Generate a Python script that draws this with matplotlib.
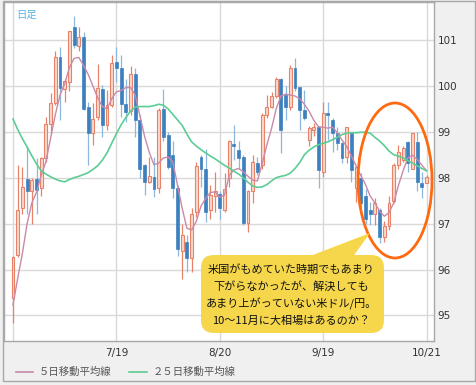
import matplotlib
matplotlib.use("Agg")
import matplotlib.pyplot as plt
import numpy as np
from matplotlib.patches import Ellipse, FancyBboxPatch, Polygon

plt.rcParams['font.family'] = ['Noto Sans CJK JP', 'DejaVu Sans']

# 日足 USD/JPY (6/19 - 10/21)
opens = [95.37, 96.32, 97.33, 97.97, 97.70, 97.98, 97.77, 98.42, 99.16, 99.62,
         100.62, 99.93, 100.09, 101.29, 100.88, 101.07, 99.55, 98.98, 99.33, 99.93,
         99.15, 99.58, 100.51, 100.38, 99.60, 99.45, 100.25, 99.26, 98.28, 97.91,
         98.02, 97.77, 99.49, 98.94, 98.49, 97.77, 96.40, 96.60, 96.25, 97.25,
         98.45, 98.20, 97.30, 97.60, 97.65, 97.30, 97.99, 98.73, 98.60, 98.46,
         97.01, 97.70, 98.31, 98.28, 99.37, 99.55, 99.77, 100.14, 99.80, 99.55,
         100.38, 99.97, 99.47, 98.82, 99.05, 99.11, 98.13, 99.40, 99.26, 98.98,
         98.75, 98.46, 98.98, 97.77, 98.00, 97.60, 97.30, 97.22, 97.30, 96.70,
         96.95, 97.50, 98.28, 98.39, 98.78, 98.20, 98.78, 97.89, 97.89]
highs = [96.30, 98.28, 98.24, 98.68, 98.00, 98.42, 98.46, 99.33, 99.84, 100.75,
         100.85, 100.15, 101.20, 101.52, 101.29, 101.18, 99.66, 99.62, 100.47, 100.02,
         99.91, 100.67, 100.85, 100.67, 100.16, 100.43, 100.40, 99.37, 98.30, 98.46,
         98.46, 99.51, 99.93, 99.00, 98.79, 97.84, 97.00, 96.75, 97.35, 98.35,
         98.50, 98.62, 97.84, 98.13, 97.70, 98.10, 98.82, 99.15, 98.79, 98.49,
         97.73, 98.49, 98.46, 99.40, 99.80, 99.87, 100.20, 100.17, 100.00, 100.46,
         100.60, 99.98, 99.91, 99.13, 99.20, 99.13, 99.66, 99.66, 99.29, 99.10,
         98.78, 99.11, 98.98, 98.26, 98.10, 97.75, 97.48, 97.55, 97.33, 97.05,
         97.60, 98.31, 98.71, 98.68, 98.80, 98.97, 99.00, 98.13, 98.06]
lows = [94.83, 96.28, 97.20, 97.22, 97.00, 97.22, 97.60, 98.35, 98.97, 99.58,
        99.26, 99.66, 99.89, 100.82, 100.75, 99.47, 98.28, 98.71, 99.26, 98.89,
        99.04, 99.55, 100.09, 99.33, 99.22, 99.37, 98.89, 97.99, 97.62, 97.88,
        97.57, 97.66, 98.79, 98.20, 97.55, 96.30, 95.80, 95.95, 95.95, 97.15,
        97.80, 97.04, 97.11, 97.26, 97.11, 97.25, 97.80, 98.39, 98.20, 96.97,
        96.82, 97.44, 98.06, 98.20, 99.29, 99.51, 99.73, 98.53, 99.25, 99.47,
        99.88, 99.04, 99.26, 98.68, 98.90, 97.77, 98.02, 98.82, 98.57, 98.60,
        98.31, 98.31, 97.90, 97.48, 97.35, 97.00, 96.97, 96.97, 96.57, 96.60,
        96.85, 97.45, 98.20, 98.35, 98.13, 98.20, 97.70, 97.55, 97.88]
closes = [96.28, 97.30, 97.80, 97.72, 97.95, 97.73, 98.42, 99.16, 99.62, 100.62,
          99.95, 100.11, 101.20, 100.89, 101.06, 99.49, 98.98, 99.28, 99.95, 99.15,
          99.58, 100.49, 100.38, 99.60, 99.44, 100.25, 99.26, 98.20, 97.91, 98.04,
          97.75, 99.47, 98.89, 98.24, 97.77, 96.45, 96.75, 96.25, 97.20, 98.25,
          98.20, 97.26, 97.62, 97.70, 97.33, 97.75, 98.79, 98.69, 98.42, 97.01,
          97.70, 98.35, 98.13, 99.37, 99.55, 99.77, 100.16, 99.04, 99.55, 100.38,
          99.95, 99.47, 99.30, 99.08, 99.11, 98.17, 99.40, 99.37, 98.97, 98.75,
          98.42, 99.11, 98.17, 98.24, 97.45, 97.11, 97.22, 97.44, 96.71, 96.95,
          97.45, 98.28, 98.57, 98.64, 98.31, 98.97, 97.91, 97.80, 98.02]

ma5 = [95.23, 95.81, 96.35, 97.00, 97.45, 97.68, 98.05, 98.35, 98.86, 99.37,
       99.80, 100.05, 100.40, 100.60, 100.62, 100.45, 100.25, 100.00, 99.75, 99.55,
       99.50, 99.72, 99.87, 99.90, 99.96, 99.97, 99.80, 99.35, 98.90, 98.55,
       98.28, 98.32, 98.43, 98.45, 98.35, 97.84, 97.33, 96.90, 96.86, 97.05,
       97.38, 97.55, 97.68, 97.69, 97.57, 97.62, 98.05, 98.17, 98.20, 98.13,
       98.03, 97.95, 97.93, 98.30, 98.71, 99.07, 99.50, 99.78, 99.82, 99.80,
       99.78, 99.72, 99.60, 99.45, 99.25, 99.11, 99.10, 99.08, 99.10, 98.98,
       98.82, 98.68, 98.47, 98.26, 98.05, 97.85, 97.60, 97.45, 97.27, 97.16,
       97.24, 97.45, 97.83, 98.15, 98.43, 98.49, 98.40, 98.27, 98.15]
ma25 = [99.28, 99.05, 98.85, 98.67, 98.48, 98.30, 98.15, 98.08, 98.02, 97.97,
        97.93, 97.91, 97.96, 98.00, 98.03, 98.07, 98.11, 98.18, 98.26, 98.38,
        98.54, 98.75, 98.96, 99.15, 99.31, 99.45, 99.54, 99.55, 99.55, 99.55,
        99.57, 99.60, 99.58, 99.50, 99.38, 99.26, 99.14, 98.95, 98.78, 98.69,
        98.61, 98.54, 98.47, 98.41, 98.34, 98.27, 98.21, 98.14, 98.08, 98.00,
        97.90, 97.82, 97.79, 97.80, 97.85, 97.93, 98.00, 98.03, 98.05, 98.10,
        98.20, 98.33, 98.50, 98.60, 98.67, 98.72, 98.75, 98.78, 98.83, 98.88,
        98.94, 98.97, 98.98, 98.98, 98.99, 98.99, 98.97, 98.88, 98.80, 98.70,
        98.58, 98.50, 98.47, 98.43, 98.37, 98.32, 98.26, 98.20, 98.15]

tick_pos = [0, 22, 44, 66, 88]
tick_labels = ['', '7/19', '8/20', '9/19', '10/21']
y_ticks = [95, 96, 97, 98, 99, 100, 101]

UP_EDGE = '#e8836a'
UP_FACE = '#f9d8cd'
DOWN_FACE = '#3d80bf'
DOWN_WICK = '#8db7dc'
MA5_COLOR = '#c98aa9'
MA25_COLOR = '#5ccd95'

W, H = 477, 385
fig = plt.figure(figsize=(W / 100, H / 100), dpi=100)
fig.patch.set_facecolor('#f0f0f0')

ax = fig.add_axes([4 / W, 44 / H, 430 / W, 339 / H])
ax.set_facecolor('white')

o = np.array(opens)
h = np.array(highs)
l = np.array(lows)
c = np.array(closes)
x = np.arange(len(o))
up = c >= o

# ヒゲ
ax.vlines(x[up], l[up], h[up], color=UP_EDGE, lw=0.9, zorder=3)
ax.vlines(x[~up], l[~up], h[~up], color=DOWN_WICK, lw=0.9, zorder=3)
# 実体
body_lo = np.minimum(o, c)
body_h = np.maximum(np.abs(c - o), 0.02)
ax.bar(x[up], body_h[up], bottom=body_lo[up], width=0.62,
       facecolor=UP_FACE, edgecolor=UP_EDGE, lw=0.8, zorder=4)
ax.bar(x[~up], body_h[~up], bottom=body_lo[~up], width=0.62,
       facecolor=DOWN_FACE, edgecolor=DOWN_FACE, lw=0.5, zorder=4)

ax.plot(x, ma5, color=MA5_COLOR, lw=1.0, zorder=5)
ax.plot(x, ma25, color=MA25_COLOR, lw=1.2, zorder=5)

ax.set_xlim((4 - 13) / 4.7, (434 - 13) / 4.7)
ax.set_ylim(101 - (341 - 40) / 45.9, 101 - (2 - 40) / 45.9)

ax.set_xticks(tick_pos)
ax.set_xticklabels(tick_labels, family='DejaVu Sans', fontsize=7.5, color='#333333')
ax.set_yticks(y_ticks)
ax.set_yticklabels([str(v) for v in y_ticks], family='DejaVu Sans',
                   fontsize=7.5, color='#333333')
ax.yaxis.tick_right()
ax.tick_params(axis='both', length=0)
ax.tick_params(axis='y', pad=2.5)
ax.tick_params(axis='x', pad=5)
ax.grid(True, color='#d9d9d9', lw=1, zorder=0)
ax.set_axisbelow(True)
for s in ax.spines.values():
    s.set_color('#a8a8a8')
    s.set_linewidth(1)

ax.text(0.028, 0.978, '日足', transform=ax.transAxes, fontsize=7.5,
        color='#55b4ea', ha='left', va='top')

# オレンジの楕円
ax.add_patch(Ellipse(((395 - 13) / 4.7, 101 - (180.5 - 40) / 45.9),
                     74 / 4.7, 155 / 45.9, fill=False,
                     edgecolor='#ff6a10', lw=2, zorder=6))

# オーバーレイ (ピクセル座標)
ov = fig.add_axes([0, 0, 1, 1], zorder=10)
ov.set_xlim(0, W)
ov.set_ylim(H, 0)
ov.axis('off')

yellow = '#f6d74c'
ov.add_patch(Polygon([(305, 258), (352, 258), (370, 233)], closed=True,
                     facecolor=yellow, edgecolor='none'))
ov.add_patch(FancyBboxPatch((201, 255), 183, 78,
                            boxstyle='round,pad=0,rounding_size=13',
                            facecolor=yellow, edgecolor='none'))
lines = ['米国がもめていた時期でもあまり',
         '下がらなかったが、解決しても',
         'あまり上がっていない米ドル/円。',
         '10～11月に大相場はあるのか？']
for i, t in enumerate(lines):
    ov.text(291, 269 + i * 17.3, t, fontsize=8, ha='center', va='center',
            color='#111111')

# 凡例
ov.plot([16, 33], [372, 372], color=MA5_COLOR, lw=1.2)
ov.text(39, 372, '５日移動平均線', fontsize=7.5, color='#555555',
        ha='left', va='center')
ov.plot([129, 147], [372, 372], color=MA25_COLOR, lw=1.2)
ov.text(153, 372, '２５日移動平均線', fontsize=7.5, color='#555555',
        ha='left', va='center')

# 外枠
ov.add_patch(plt.Rectangle((3, 1), 472, 380, fill=False,
                           edgecolor='#a8a8a8', lw=1))

fig.savefig('out.png', dpi=100, facecolor=fig.get_facecolor())
